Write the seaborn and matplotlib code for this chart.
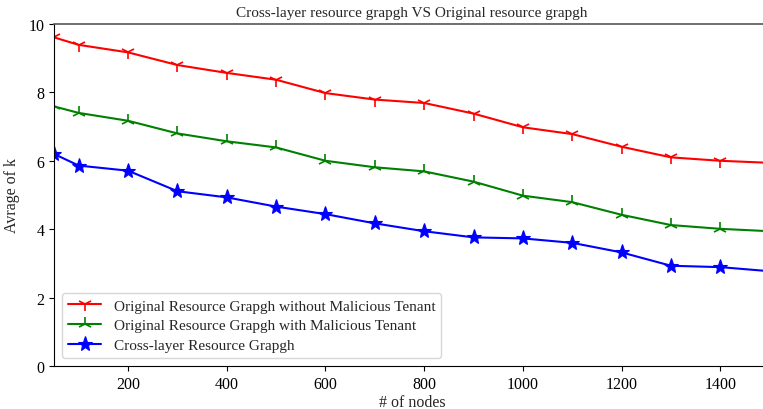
import numpy as np
import pandas as pd
import matplotlib
matplotlib.use("Agg")
import matplotlib.pyplot as plt
import seaborn as sns

nodes = [50, 100, 200, 300, 400, 500, 600, 700, 800, 900, 1000, 1100, 1200, 1300, 1400, 1500]
senza_malevolo = [9.61, 9.39, 9.17, 8.80, 8.57, 8.37, 7.98, 7.79, 7.69, 7.38, 6.98, 6.78, 6.41, 6.10, 6.00, 5.94]
con_malevolo = [7.59, 7.40, 7.17, 6.80, 6.57, 6.39, 6.00, 5.81, 5.69, 5.39, 4.98, 4.79, 4.42, 4.12, 4.01, 3.94]
cross_layer = [6.20, 5.86, 5.71, 5.11, 4.93, 4.66, 4.44, 4.17, 3.94, 3.76, 3.73, 3.60, 3.32, 2.93, 2.89, 2.77]

etichette = ['Original Resource Grapgh without Malicious Tenant',
             'Original Resource Grapgh with Malicious Tenant',
             'Cross-layer Resource Grapgh']

sns.set_style("ticks")
plt.rcParams['font.family'] = ['Liberation Serif', 'DejaVu Serif']

fig = plt.figure(figsize=(7.63, 4.10), dpi=100)
# l'asse esce un po' dal bordo destro, come nell'originale ritagliato
ax = fig.add_axes([0.0708, 0.105, 0.938, 0.834])

sns.lineplot(x=nodes, y=senza_malevolo, ax=ax, color='red', marker='1', markersize=10,
             markeredgecolor='red', markeredgewidth=1.2, linewidth=1.5, label=etichette[0])
sns.lineplot(x=nodes, y=con_malevolo, ax=ax, color='green', marker='2', markersize=10,
             markeredgecolor='green', markeredgewidth=1.2, linewidth=1.5, label=etichette[1])
sns.lineplot(x=nodes, y=cross_layer, ax=ax, color='blue', marker='*', markersize=11,
             markeredgecolor='blue', markeredgewidth=0.8, linewidth=1.5, label=etichette[2])

ax.set_xlim(50, 1500)
ax.set_ylim(0, 10)
ax.set_xticks([200, 400, 600, 800, 1000, 1200, 1400])
ax.set_yticks([0, 2, 4, 6, 8, 10])
ax.tick_params(labelsize=11.5, direction='out', length=3.5, width=0.8, colors='black')
for sp in ax.spines.values():
    sp.set_color('black')
    sp.set_linewidth(0.8)
ax.spines['top'].set_color('#555555')
ax.spines['top'].set_linewidth(1.2)

ax.set_title('Cross-layer resource grapgh VS Original resource grapgh', fontsize=11)
ax.set_xlabel('# of nodes', fontsize=11.5, labelpad=2)
ax.set_ylabel('Avrage of k', fontsize=11.5, labelpad=6)
ax.legend(loc='lower left', fontsize=11, frameon=True, fancybox=True,
          handlelength=2.2, labelspacing=0.4)

fig.savefig('out.png', dpi=100)
